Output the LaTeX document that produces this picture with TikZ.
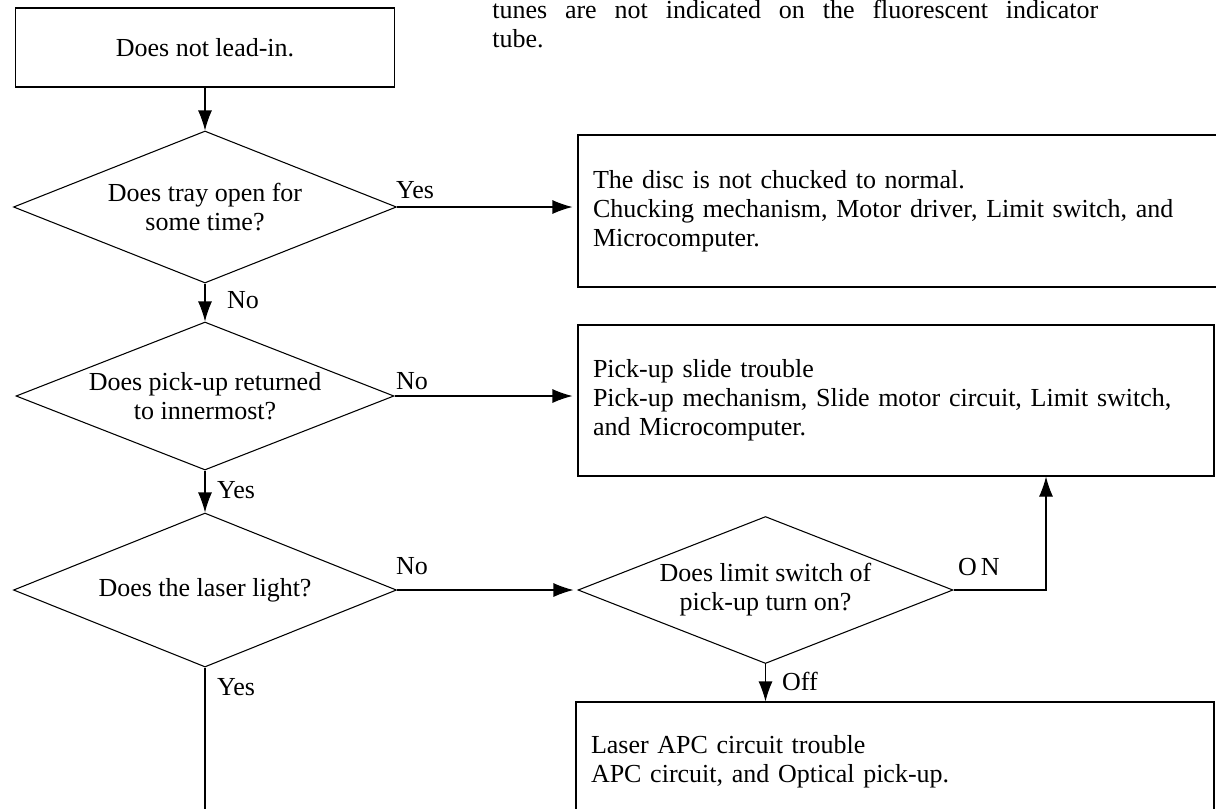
\documentclass[tikz,border=0pt]{standalone}
\usepackage{fontspec}
\setmainfont{Liberation Serif}
\usetikzlibrary{shapes.geometric,arrows.meta}
\newdimen\pxu \pxu=0.75pt
\begin{document}
\begin{tikzpicture}[x=0.75pt,y=-0.75pt,
  every node/.style={font=\fontsize{19.5}{21.75}\selectfont, inner sep=0pt},
  dia/.style={draw, diamond, line width=0.8pt, align=center},
  box/.style={draw, rectangle, line width=0.8pt},
  tbox/.style={box, align=left, inner xsep=15\pxu},
  arr/.style={-{Latex[length=15pt,width=10.5pt]}, line width=0.8pt},
  conn/.style={line width=0.8pt},
  lbl/.style={}
]
\clip (0,0) rectangle (1216,808);
% top paragraph fragment
\node[anchor=base west] (p1) at (492,18) {\makebox[606\pxu][s]{tunes are not indicated on the fluorescent indicator}};
\node[anchor=base west] (p2) at (492,47) {tube.};

% left column
\node[box, minimum width=379\pxu, minimum height=79\pxu] (start) at (205,47.5) {Does not lead-in.};
\node[dia, aspect=2.5, minimum width=383\pxu, minimum height=152\pxu] (d1) at (205,207) {Does tray open for\\some time?};
\node[dia, aspect=2.5, minimum width=378\pxu, minimum height=148\pxu] (d2) at (205,396) {Does pick-up returned\\to innermost?};
\node[dia, aspect=2.5, minimum width=383\pxu, minimum height=154\pxu] (d3) at (205,590) {Does the laser light?};
\coordinate (end) at (205,815);

% right column
\node[tbox, text width=622\pxu, minimum height=152\pxu] (r1) at (904,211) {The disc is not chucked to normal.\\Chucking mechanism, Motor driver, Limit switch, and\\Microcomputer.};
\node[tbox, text width=606\pxu, minimum height=151\pxu] (r2) at (896,400.5) {Pick-up slide trouble\\Pick-up mechanism, Slide motor circuit, Limit switch,\\and Microcomputer.};
\node[dia, aspect=2.5, minimum width=375\pxu, minimum height=147\pxu] (d4) at (765.5,590) {Does limit switch of\\pick-up turn on?};
\node[tbox, text width=608\pxu, minimum height=120\pxu] (r3) at (895,762) {Laser APC circuit trouble\\APC circuit, and Optical pick-up.};
\coordinate (k) at (1046,0);

% connectors
\draw[arr] (start.south) -- (d1.north);
\draw[arr, shorten >=5\pxu] (d1.east) -- (d1.east -| r1.west);
\draw[arr] (d1.south) -- (d2.north);
\draw[arr, shorten >=5\pxu] (d2.east) -- (d2.east -| r2.west);
\draw[arr] (d2.south) -- (d3.north);
\draw[arr, shorten >=4\pxu] (d3.east) -- (d4.west);
\draw[conn] (d3.south) -- (end);
\draw[arr] (d4.east) -| (r2.south -| k);
\draw[arr] (d4.south) -- (d4.south |- r3.north);

% labels
\node (l1) at (415,190) {Yes};
\node (l2) at (243,300) {No};
\node (l3) at (412,381) {No};
\node (l4) at (236,490) {Yes};
\node (l5) at (412,566) {No};
\node (l6) at (236,687) {Yes};
\node (l7) at (979,567) {O\kern4\pxu N};
\node (l8) at (800,681) {Off};
\end{tikzpicture}
\end{document}
